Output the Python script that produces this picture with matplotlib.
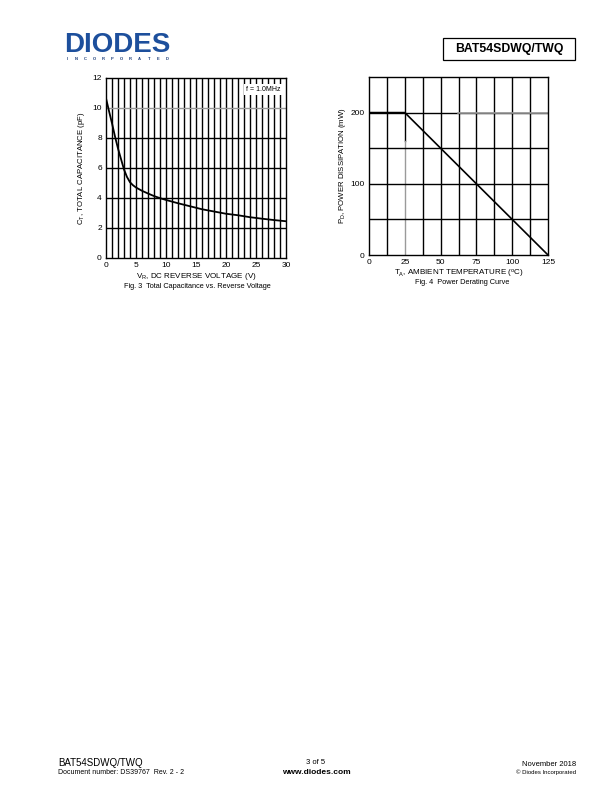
import matplotlib
matplotlib.use("Agg")
import matplotlib.pyplot as plt
from matplotlib.patches import Rectangle
import numpy as np

plt.rcParams['font.family'] = ['Liberation Sans', 'DejaVu Sans']
plt.rcParams['mathtext.default'] = 'regular'

# Fig. 3 - total capacitance vs reverse voltage
vr = [0, 0.5, 1, 1.5, 2, 2.5, 3, 3.5, 4, 4.5, 5, 6, 7, 8, 9, 10,
      12, 14, 16, 18, 20, 22, 24, 26, 28, 30]
ct = [10.65, 9.8, 8.98, 8.1, 7.3, 6.6, 5.9, 5.4, 5.05, 4.85, 4.7, 4.48, 4.3, 4.13, 3.99, 3.87,
      3.65, 3.45, 3.25, 3.1, 2.95, 2.85, 2.72, 2.62, 2.53, 2.45]
vr_ticks = [0, 5, 10, 15, 20, 25, 30]
ct_ticks = [0, 2, 4, 6, 8, 10, 12]

# Fig. 4 - power derating
ta = [0, 25, 125]
pd = [200, 200, 0]
ta_ticks = [0, 25, 50, 75, 100, 125]
pd_ticks = [0, 100, 200]

fig = plt.figure(figsize=(6.12, 7.92), dpi=100)
W, H = 612, 792

def ax_at(x0, y0, x1, y1):
    return fig.add_axes([x0 / W, 1 - y1 / H, (x1 - x0) / W, (y1 - y0) / H])

def fx(x):
    return x / W

def fy(y):
    return 1 - y / H

# ---- chart 1
ax1 = ax_at(106, 78, 286, 258)
ax1.set_xlim(0, 30)
ax1.set_ylim(0, 12)
for v in range(1, 30):
    ax1.axvline(v, color='black', lw=1.0, zorder=1)
for c in [2, 4, 6, 8]:
    ax1.axhline(c, color='black', lw=1.0, zorder=1)
ax1.axhline(10, color='#9a9a9a', lw=1.0, zorder=1)
ax1.plot(vr, ct, color='black', lw=1.3, zorder=3)
ax1.set_xticks(vr_ticks)
ax1.set_yticks(ct_ticks)
ax1.tick_params(length=0, labelsize=6, pad=3)
ax1.text(0.97, 0.955, 'f = 1.0MHz', transform=ax1.transAxes, ha='right', va='top',
         fontsize=5, zorder=4,
         bbox=dict(facecolor='white', edgecolor='none', pad=1.2))
ax1.set_xlabel(r'V$_{R}$, DC REVERSE VOLTAGE (V)', fontsize=5.8, labelpad=1.5)
ax1.set_ylabel(r'C$_{T}$, TOTAL CAPACITANCE (pF)', fontsize=5.6, labelpad=3.5)
fig.text(fx(197), fy(286.5), 'Fig. 3  Total Capacitance vs. Reverse Voltage',
         fontsize=5.3, ha='center', va='center')

# ---- chart 2
ax2 = ax_at(369, 77, 548, 255)
ax2.set_xlim(0, 125)
ax2.set_ylim(0, 250)
for t in np.arange(12.5, 125, 12.5):
    if t == 25:
        ax2.plot([25, 25], [160, 250], color='black', lw=1.0, zorder=1)
        ax2.plot([25, 25], [0, 160], color='#9a9a9a', lw=1.0, zorder=1)
    else:
        ax2.axvline(t, color='black', lw=1.0, zorder=1)
for p in [50, 100, 150, 200]:
    ax2.axhline(p, color='black', lw=1.0, zorder=1)
ax2.plot([62, 125], [200, 200], color='#9a9a9a', lw=1.2, zorder=2)
ax2.plot(ta, pd, color='black', lw=1.2, zorder=3)
ax2.set_xticks(ta_ticks)
ax2.set_yticks(pd_ticks)
ax2.tick_params(length=0, labelsize=6, pad=3)
ax2.set_xlabel(r'T$_{A}$, AMBIENT TEMPERATURE ($^{o}$C)', fontsize=5.8, labelpad=1.5)
ax2.set_ylabel(r'P$_{D}$, POWER DISSIPATION (mW)', fontsize=5.6, labelpad=2)
fig.text(fx(462), fy(282.5), 'Fig. 4  Power Derating Curve',
         fontsize=5.3, ha='center', va='center')

for ax in (ax1, ax2):
    for s in ax.spines.values():
        s.set_linewidth(1.0)

# ---- header
fig.text(fx(64), fy(45), 'DIODES', fontsize=20, fontweight='bold',
         color='#1d4f9c', ha='left', va='center')
for i, ch in enumerate('INCORPORATED'):
    fig.text(fx(67 + i * 9.1), fy(59.5), ch, fontsize=3, fontweight='bold',
             color='#1f3f7a', ha='center', va='center')
fig.patches.append(Rectangle((fx(443), fy(60)), fx(575) - fx(443), fy(38) - fy(60),
                             transform=fig.transFigure, facecolor='white',
                             edgecolor='black', lw=0.9))
fig.text(fx(509), fy(49), 'BAT54SDWQ/TWQ', fontsize=8.8, fontweight='bold',
         ha='center', va='center')

# ---- footer
fig.text(fx(58), fy(763), 'BAT54SDWQ/TWQ', fontsize=7, ha='left', va='center')
fig.text(fx(58), fy(773), 'Document number: DS39767  Rev. 2 - 2', fontsize=5,
         ha='left', va='center')
fig.text(fx(316), fy(763), '3 of 5', fontsize=5.5, ha='center', va='center')
fig.text(fx(316), fy(772), 'www.diodes.com', fontsize=6, fontweight='bold',
         ha='center', va='center')
fig.text(fx(576), fy(764), 'November 2018', fontsize=5.5, ha='right', va='center')
fig.text(fx(576), fy(772), '\u00a9 Diodes Incorporated', fontsize=4.3,
         ha='right', va='center')

fig.savefig('out.png', dpi=100)
